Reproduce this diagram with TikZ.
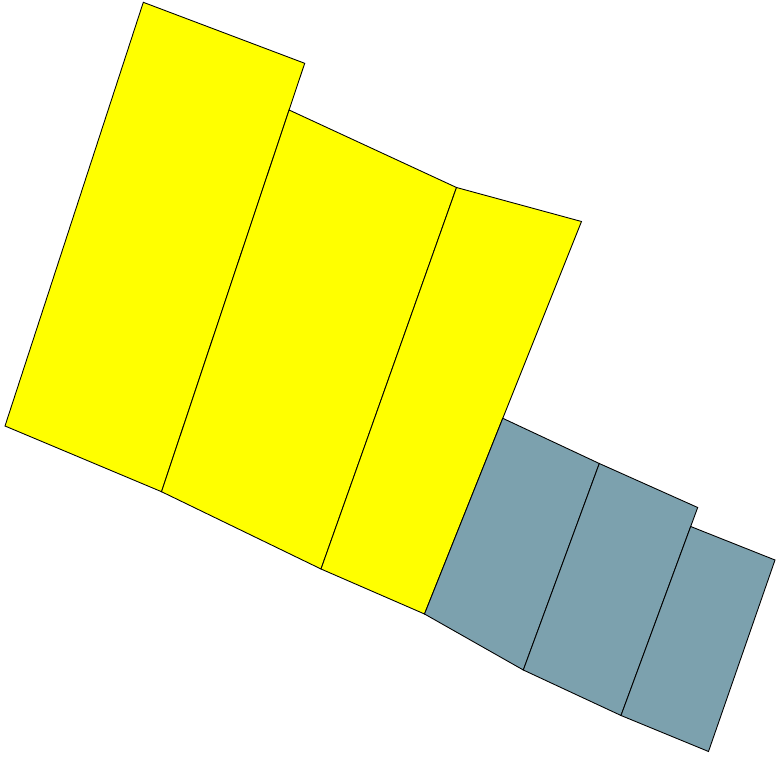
\documentclass[tikz,border=0pt]{standalone}
\usepackage{xcolor}
\usepackage{tikz}
\definecolor{plotYellow}{RGB}{255, 255, 0}
\definecolor{plotGray}{RGB}{124, 161, 174}

\begin{document}
\begin{tikzpicture}[x=0.02cm, y=-0.02cm,
    plotY/.style={draw=black, line width=0.5pt, fill=plotYellow, line join=miter},
    plotG/.style={draw=black, line width=0.5pt, fill=plotGray, line join=miter}]
        \useasboundingbox (0,0) rectangle (779,757);
        % shared corners
        \coordinate (a1) at (143.3,2.3);
        \coordinate (a2) at (304.7,63.3);
        \coordinate (a3) at (161.5,491.7);
        \coordinate (a4) at (5,426);
        \coordinate (b1) at (289.1,110);
        \coordinate (b2) at (456.5,187.5);
        \coordinate (b3) at (321,569);
        \coordinate (c1) at (581.5,221.5);
        \coordinate (c2) at (424.5,614);
        \coordinate (d1) at (502.8,418.3);
        \coordinate (d2) at (599.3,463.5);
        \coordinate (d3) at (523.3,670);
        \coordinate (e1) at (697.7,507.5);
        \coordinate (e2) at (621,715.5);
        \coordinate (f1) at (690.7,526.5);
        \coordinate (f2) at (775,560);
        \coordinate (f3) at (708.5,751.5);
        % yellow strips
        \draw[plotY] (a1) -- (a2) -- (a3) -- (a4) -- cycle;
        \draw[plotY] (b1) -- (b2) -- (b3) -- (a3) -- cycle;
        \draw[plotY] (b2) -- (c1) -- (c2) -- (b3) -- cycle;
        % gray strips
        \draw[plotG] (d1) -- (d2) -- (d3) -- (c2) -- cycle;
        \draw[plotG] (d2) -- (e1) -- (e2) -- (d3) -- cycle;
        \draw[plotG] (f1) -- (f2) -- (f3) -- (e2) -- cycle;
    \end{tikzpicture}
\end{document}
